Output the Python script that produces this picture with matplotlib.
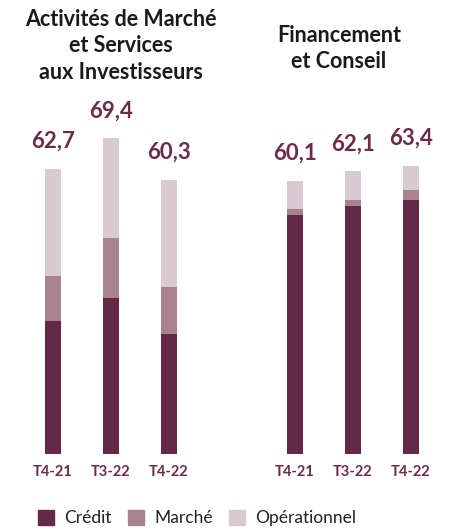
import matplotlib.pyplot as plt
from matplotlib.patches import Patch

plt.rcParams['font.family'] = ['Lato', 'DejaVu Sans']

quarters = ['T4-21', 'T3-22', 'T4-22']
group_titles = ['Activités de Marché\net Services\naux Investisseurs', 'Financement\net Conseil']
series = ['Crédit', 'Marché', 'Opérationnel']

# RWA (Md EUR) per group
gbis_credit = [29.2, 34.3, 26.4]
gbis_marche = [10.0, 13.2, 10.4]
gbis_oper = [23.5, 21.9, 23.5]
gbis_total = [62.7, 69.4, 60.3]

fc_credit = [52.5, 54.5, 55.8]
fc_marche = [1.3, 1.3, 2.2]
fc_oper = [6.3, 6.3, 5.4]
fc_total = [60.1, 62.1, 63.4]

colors = ['#632946', '#a8838f', '#d9cad1']
label_col = '#6b2c4b'

fig = plt.figure(figsize=(4.65, 5.32), dpi=100)
ax = fig.add_axes([0, 78 / 532, 1, 454 / 532])

pos_left = [0, 1, 2]
pos_right = [4.17, 5.17, 6.17]
w = 0.28

for pos, cr, ma, op, tot in [(pos_left, gbis_credit, gbis_marche, gbis_oper, gbis_total),
                             (pos_right, fc_credit, fc_marche, fc_oper, fc_total)]:
    bottom2 = [a + b for a, b in zip(cr, ma)]
    ax.bar(pos, cr, w, color=colors[0])
    ax.bar(pos, ma, w, bottom=cr, color=colors[1])
    ax.bar(pos, op, w, bottom=bottom2, color=colors[2])
    for x, t, b, o in zip(pos, tot, bottom2, op):
        ax.annotate(f'{t:.1f}'.replace('.', ','), (x, b + o), xytext=(0, 12),
                    textcoords='offset points', ha='center', va='bottom',
                    fontsize=16, fontweight='bold', color=label_col)

ax.set_xlim(-53 / 58, 412 / 58)
ax.set_ylim(0, 454 / 4.55)
ax.set_xticks(pos_left + pos_right)
ax.set_xticklabels(quarters * 2, fontsize=10.5, fontweight='bold', color=label_col)
ax.tick_params(axis='x', length=0, pad=8)
ax.tick_params(axis='y', left=False, labelleft=False)
for s in ax.spines.values():
    s.set_visible(False)

fig.text(121 / 465, 1 - 9 / 532, group_titles[0], ha='center', va='top',
         fontsize=15.5, fontweight='bold', color='#1a1a1a', linespacing=1.32)
fig.text(339 / 465, 1 - 25 / 532, group_titles[1], ha='center', va='top',
         fontsize=15.5, fontweight='bold', color='#1a1a1a', linespacing=1.32)

handles = [Patch(color=c) for c in colors]
fig.legend(handles, series, loc='center left', bbox_to_anchor=(22 / 465, 14 / 532),
           ncol=3, frameon=False, fontsize=12.5, handlelength=0.95, handleheight=0.95,
           handletextpad=0.6, columnspacing=0.9, labelcolor='#222222')

fig.savefig('out.png', dpi=100)
